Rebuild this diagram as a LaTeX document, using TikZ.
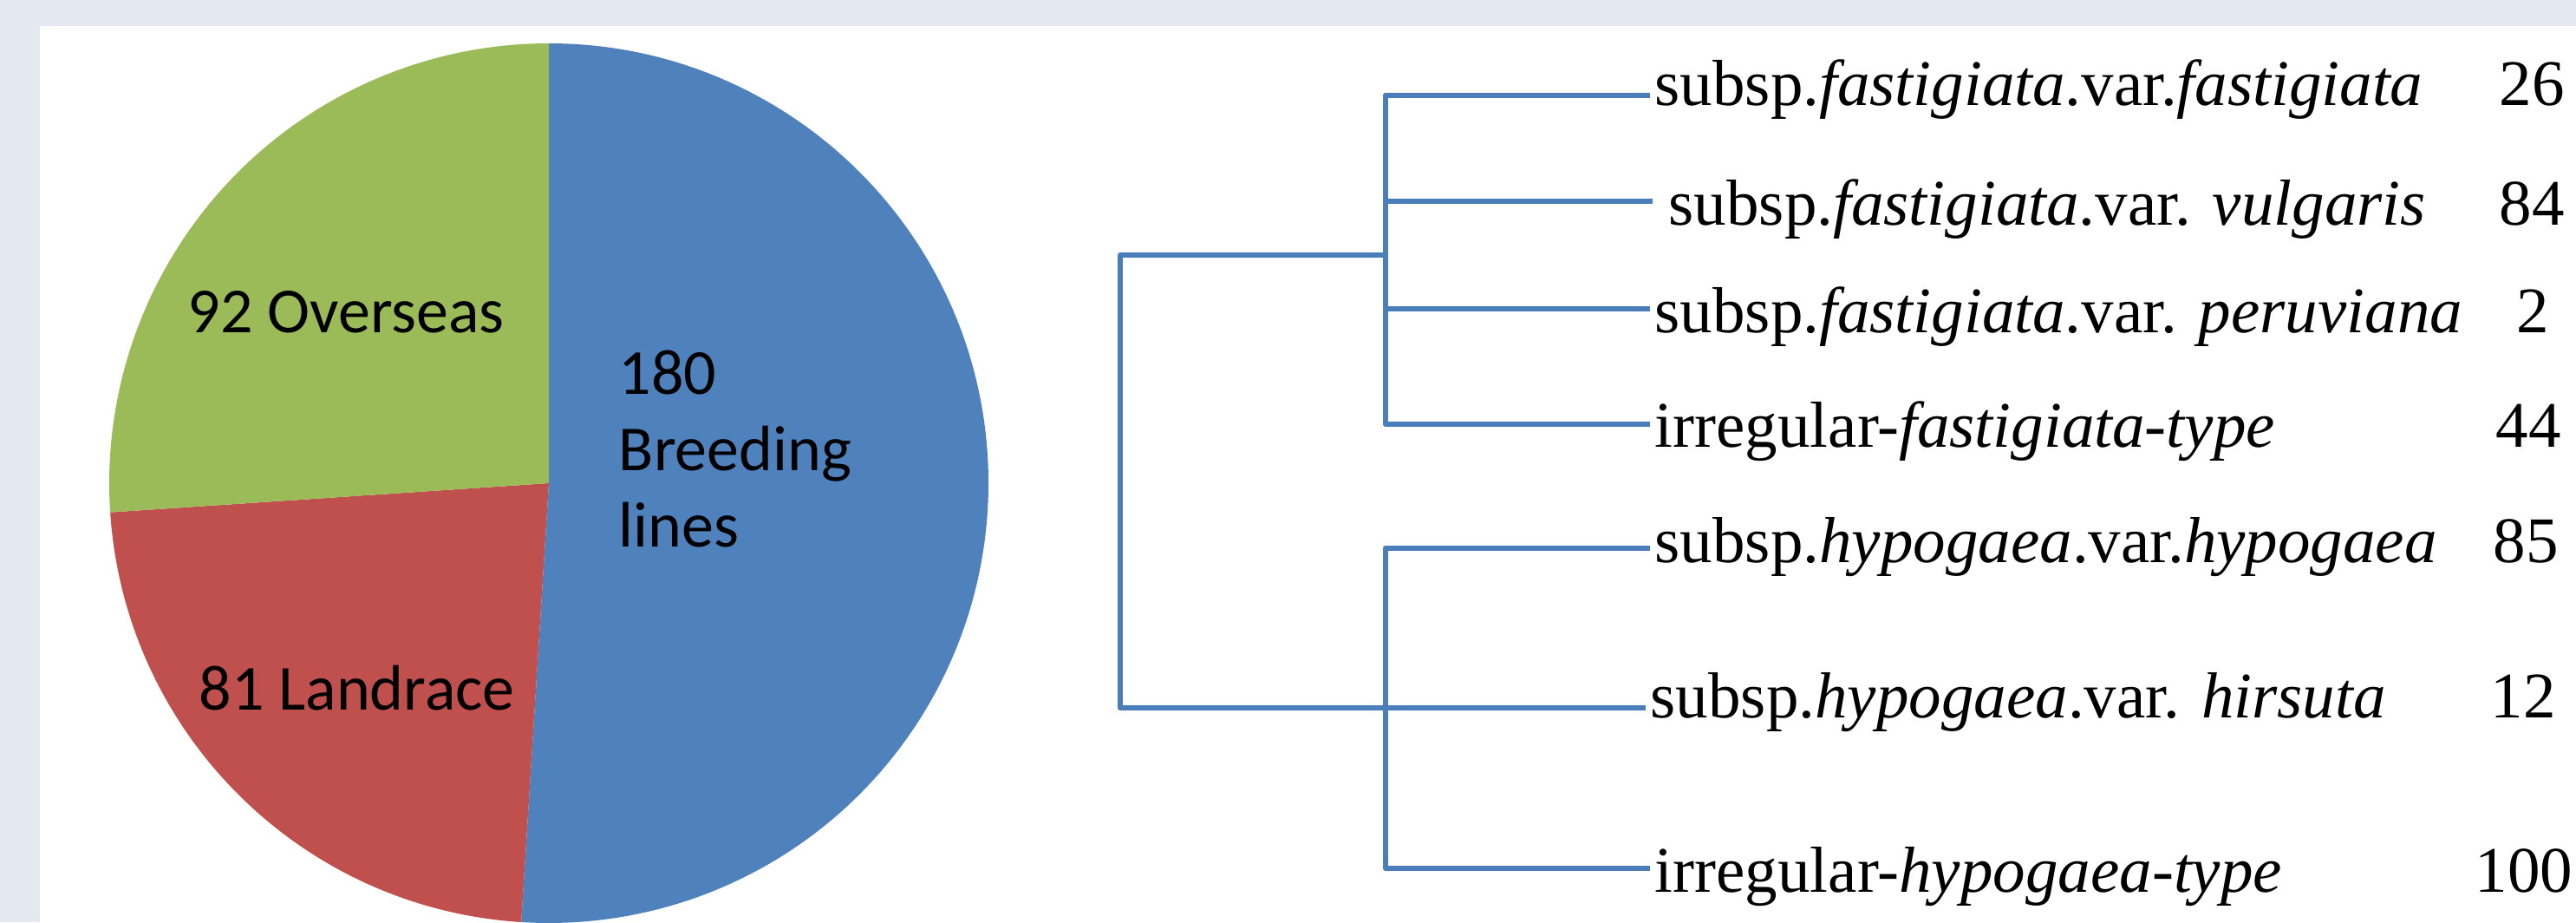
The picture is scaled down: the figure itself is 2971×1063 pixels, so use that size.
\documentclass[tikz,border=0pt]{standalone}
\usepackage{fontspec}
\setmainfont{Liberation Serif}
\newfontfamily\calibri{Carlito}
\definecolor{bggrey}{HTML}{E4E8F0}
\definecolor{pieblue}{HTML}{4F81BD}
\definecolor{piered}{HTML}{C0504D}
\definecolor{piegreen}{HTML}{9BBB59}
\definecolor{treeblue}{HTML}{4A7EBB}
\begin{document}
\begin{tikzpicture}[x=0.25pt,y=0.25pt,
  pielabel/.style={font=\calibri\fontsize{18.5pt}{22pt}\selectfont, inner sep=0pt, anchor=base west, align=left},
  taxon/.style={font=\fontsize{18.75pt}{22pt}\selectfont, inner sep=0pt, anchor=base west},
  count/.style={font=\fontsize{18.75pt}{22pt}\selectfont, inner sep=0pt, anchor=base west},
  branch/.style={draw=treeblue, line width=1.6pt, line join=round}]
\useasboundingbox (0,0) rectangle (2971,-1063);
% background
\fill[bggrey] (0,0) rectangle (2971,-1063);
\fill[white] (46,-30) rectangle (2971,-1063);
% pie chart
\begin{scope}
\clip (0,0) rectangle (2971,-1063);
\coordinate (pc) at (633,-557);
\fill[pieblue] (pc) -- ++(90:507) arc[start angle=90, end angle=-93.6, radius=507] -- cycle;
\fill[piered] (pc) -- ++(-93.6:507) arc[start angle=-93.6, end angle=-176.2, radius=507] -- cycle;
\fill[piegreen] (pc) -- ++(-176.2:507) arc[start angle=-176.2, end angle=-270, radius=507] -- cycle;
\end{scope}
\node[pielabel] (overseas) at (216,-383) {92 Overseas};
\node[pielabel] (breeding) at (713,-630) {180\\Breeding\\lines};
\node[pielabel] (landrace) at (229,-818) {81 Landrace};
% tree coordinates
\coordinate (rootT) at (1292,-294);
\coordinate (rootB) at (1292,-816);
\coordinate (cladeU) at (1598,-294);
\coordinate (uTop) at (1598,-110);
\coordinate (uBot) at (1598,-489);
\coordinate (cladeL) at (1598,-816);
\coordinate (lTop) at (1598,-632);
\coordinate (lBot) at (1598,-1001);
\coordinate (e1) at (1903,-110);
\coordinate (e2) at (1906,-232);
\coordinate (e3) at (1903,-356);
\coordinate (e4) at (1903,-489);
\coordinate (e5) at (1903,-632);
\coordinate (e6) at (1898,-816);
\coordinate (e7) at (1903,-1001);
% taxa labels
\node[taxon] (t1) at (1908,-121) {subsp.\textit{fastigiata}.var.\textit{fastigiata}};
\node[taxon] (t2) at (1924,-259) {subsp.\textit{fastigiata}.var. \textit{vulgaris}};
\node[taxon] (t3) at (1908,-383) {subsp.\textit{fastigiata}.var. \textit{peruviana}};
\node[taxon] (t4) at (1908,-515) {irregular-\textit{fastigiata-type}};
\node[taxon] (t5) at (1908,-648) {subsp.\textit{hypogaea}.var.\textit{hypogaea}};
\node[taxon] (t6) at (1903,-827) {subsp.\textit{hypogaea}.var. \textit{hirsuta}};
\node[taxon] (t7) at (1908,-1028) {irregular-\textit{hypogaea-type}};
% counts
\node[count] (n1) at (2882,-121) {26};
\node[count] (n2) at (2882,-259) {84};
\node[count] (n3) at (2902,-383) {2};
\node[count] (n4) at (2878,-515) {44};
\node[count] (n5) at (2875,-648) {85};
\node[count] (n6) at (2872,-827) {12};
\node[count] (n7) at (2854,-1028) {100};
% tree branches
\draw[branch] (e1) -- (uTop) -- (uBot) -- (e4);
\draw[branch] (cladeU |- e2) -- (e2);
\draw[branch] (cladeU |- e3) -- (e3);
\draw[branch] (cladeU) -- (rootT) -- (rootB) -- (e6);
\draw[branch] (e5) -- (lTop) -- (lBot) -- (e7);
\end{tikzpicture}
\end{document}
